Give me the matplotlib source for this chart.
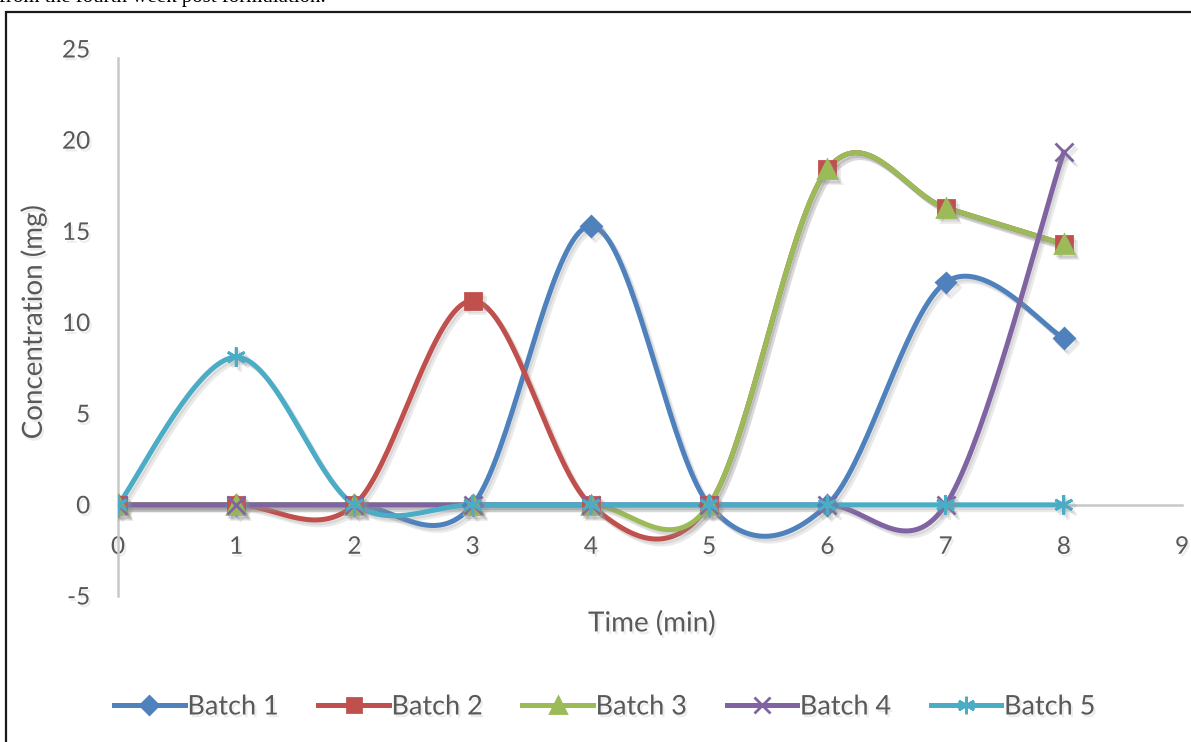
import numpy as np
import matplotlib.pyplot as plt
import matplotlib.patheffects as pe
from matplotlib.patches import Rectangle

time_min = [0, 1, 2, 3, 4, 5, 6, 7, 8]
batch_names = ["Batch 1", "Batch 2", "Batch 3", "Batch 4", "Batch 5"]
batch1 = [0, 0, 0, 0, 15.3, 0, 0, 12.2, 9.15]
batch2 = [0, 0, 0, 11.2, 0, 0, 18.4, 16.3, 14.3]
batch3 = [0, 0, 0, 0, 0, 0, 18.4, 16.3, 14.3]
batch4 = [0, 0, 0, 0, 0, 0, 0, 0, 19.35]
batch5 = [0, 8.1, 0, 0, 0, 0, 0, 0, 0]
series = [batch1, batch2, batch3, batch4, batch5]

colors = ["#4F81BD", "#C0504D", "#9BBB59", "#8064A2", "#4BACC6"]
markers = ["D", "s", "^", "x", (6, 2, 0)]
msizes = [10, 11.5, 13, 13, 14]

TXT = "#595959"
W, H = 1191, 742


def smooth(xs, ys, n=40):
    # Catmull-Rom style cubic Bezier through every point (spreadsheet "smoothed line")
    p = np.column_stack([xs, ys]).astype(float)
    p = np.vstack([p[:1], p, p[-1:]])
    out = []
    t = np.linspace(0, 1, n)[:, None]
    for i in range(1, len(p) - 2):
        p0, p1, p2, p3 = p[i - 1], p[i], p[i + 1], p[i + 2]
        c1 = p1 + (p2 - p0) / 6
        c2 = p2 - (p3 - p1) / 6
        seg = ((1 - t) ** 3) * p1 + 3 * ((1 - t) ** 2) * t * c1 + 3 * (1 - t) * t ** 2 * c2 + t ** 3 * p2
        out.append(seg if i == 1 else seg[1:])
    out = np.vstack(out)
    return out[:, 0], out[:, 1]


plt.rcParams['font.family'] = ['Lato', 'DejaVu Sans']
plt.rcParams['axes.unicode_minus'] = False
fig = plt.figure(figsize=(W / 100, H / 100), dpi=100)
ax = fig.add_axes([118 / W, 146 / H, (1182 - 118) / W, (596 - 49) / H])

shadow = [pe.SimpleLineShadow(offset=(3, -3.5), shadow_color="#909090", alpha=0.18),
          pe.SimpleLineShadow(offset=(1.5, -2), shadow_color="#909090", alpha=0.2),
          pe.Normal()]
txt_shadow = [pe.withSimplePatchShadow(offset=(1.5, -2), shadow_rgbFace="#a0a0a0", alpha=0.2)]

handles = []
for ys, name, c, m, ms in zip(series, batch_names, colors, markers, msizes):
    sx, sy = smooth(time_min, ys)
    ax.plot(sx, sy, color=c, lw=3.6, solid_capstyle="round", path_effects=shadow, zorder=3)
    ax.plot(time_min, ys, ls="none", marker=m, ms=ms, color=c, mec=c, mew=2,
            path_effects=shadow, zorder=4)
    h, = ax.plot([], [], color=c, lw=3.6, marker=m, ms=ms * 0.9, mec=c, mew=2)
    handles.append(h)

ax.set_xlim(0, 9)
ax.set_ylim(-5, 25)
ax.set_xticks(range(0, 10))
ax.set_yticks(range(-5, 30, 5))
for s in ["top", "right"]:
    ax.spines[s].set_visible(False)
ax.spines["bottom"].set_position(("data", 0))
ax.spines["bottom"].set_color("#c8c8c8")
ax.spines["bottom"].set_linewidth(1.8)
ax.spines["bottom"].set_zorder(1)
ax.spines["left"].set_color("#c8c8c8")
ax.spines["left"].set_linewidth(1.8)
ax.spines["left"].set_bounds(-5, 24.5)
ax.tick_params(axis="x", length=0, pad=23, labelsize=17.5, labelcolor=TXT)
ax.tick_params(axis="y", length=0, pad=20, labelsize=17.5, labelcolor=TXT)
for lab in ax.get_xticklabels() + ax.get_yticklabels():
    lab.set_path_effects(txt_shadow)

fig.text(33 / W, 1 - 322 / H, "Concentration (mg)", rotation=90, ha="center", va="center",
         fontsize=20, color=TXT, path_effects=txt_shadow)
fig.text(652 / W, 1 - 623 / H, "Time (min)", ha="center", va="center",
         fontsize=20, color=TXT, path_effects=txt_shadow)

leg = fig.legend(handles, batch_names, loc="center", bbox_to_anchor=(605 / W, 1 - 707 / H),
                 ncol=5, frameon=False, fontsize=19.5, handlelength=2.6, handletextpad=0.1,
                 columnspacing=1.45, labelcolor=TXT)
for t in leg.get_texts():
    t.set_path_effects(txt_shadow)

# outer frame and the caption line above it
fig.add_artist(Rectangle((5.5 / W, -0.2), 2, 0.2 + 730 / H, transform=fig.transFigure,
                         fill=False, ec="#1a1a1a", lw=1.6))
fig.text(-0.001, 1 - 2 / H, "from the fourth week post formulation.", ha="left", va="baseline",
         fontsize=15, family="Liberation Serif", color="black")

fig.savefig("out.png", dpi=100)
